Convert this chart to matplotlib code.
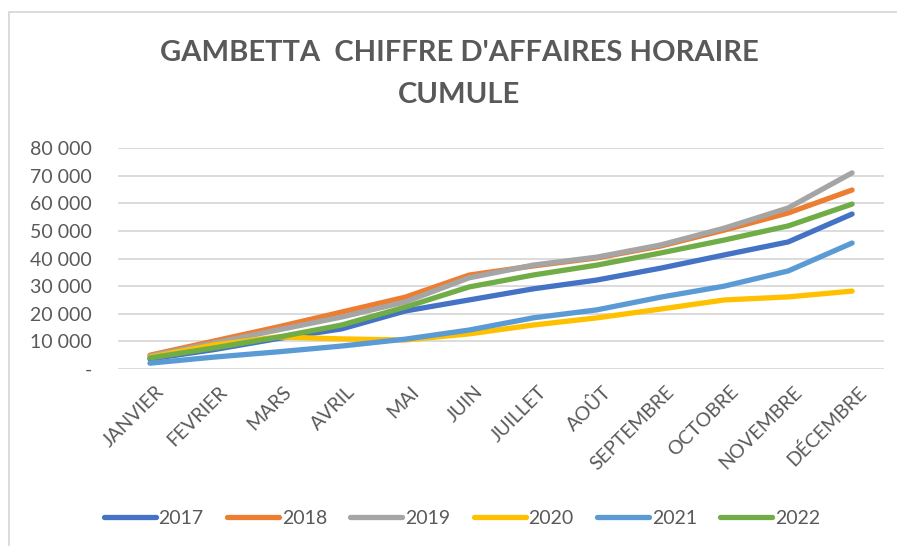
import matplotlib.pyplot as plt
from matplotlib.patches import Rectangle
from matplotlib.ticker import FuncFormatter
from matplotlib.transforms import ScaledTranslation
import numpy as np

plt.rcParams['font.family'] = ['Lato', 'DejaVu Sans']

mois = ['JANVIER', 'FEVRIER', 'MARS', 'AVRIL', 'MAI', 'JUIN', 'JUILLET', 'AOÛT',
        'SEPTEMBRE', 'OCTOBRE', 'NOVEMBRE', 'DÉCEMBRE']

ca_2017 = [3600, 7000, 11000, 14500, 21000, 25000, 29000, 32200, 36500, 41300, 46000, 56100]
ca_2018 = [5000, 10100, 15200, 20600, 26000, 34000, 37300, 40200, 44500, 50300, 56500, 64800]
ca_2019 = [4700, 9400, 14100, 18800, 24300, 33000, 37600, 40500, 44900, 51000, 58300, 71000]
ca_2020 = [4300, 8700, 11600, 10900, 10500, 12700, 15900, 18500, 21700, 25000, 26100, 28200]
ca_2021 = [2100, 4300, 6200, 8300, 10800, 14100, 18500, 21400, 26000, 30000, 35500, 45600]
ca_2022 = [4000, 7600, 11500, 15900, 22400, 29700, 34000, 37600, 42000, 46700, 51800, 59700]

annees = ['2017', '2018', '2019', '2020', '2021', '2022']
series = [ca_2017, ca_2018, ca_2019, ca_2020, ca_2021, ca_2022]
couleurs = ['#4472C4', '#ED7D31', '#A5A5A5', '#FFC000', '#5B9BD5', '#70AD47']

gris = '#595959'

fig = plt.figure(figsize=(8.97, 5.46), dpi=100)
ax = fig.add_axes([0.1316, 0.3242, 0.8539, 0.4047])

# cadre du graphique
fig.patches.append(Rectangle((9 / 897, -0.05), 1.2, 1 - 12 / 546 + 0.05,
                             transform=fig.transFigure, fill=False,
                             edgecolor='#D9D9D9', linewidth=1.3))

x = np.arange(len(mois))
for annee, vals, c in zip(annees, series, couleurs):
    ax.plot(x, vals, color=c, linewidth=3.8, label=annee, solid_capstyle='round',
            solid_joinstyle='round')

ax.set_xlim(-0.5, len(mois) - 0.5)
ax.set_ylim(0, 80000)
ax.set_yticks(np.arange(0, 80001, 10000))
ax.yaxis.set_major_formatter(FuncFormatter(
    lambda v, p: '-' if v == 0 else f'{int(v):,}'.replace(',', ' ')))
ax.grid(axis='y', color='#D9D9D9', linewidth=1.3)
ax.set_axisbelow(True)
for s in ax.spines.values():
    s.set_visible(False)
ax.tick_params(axis='both', length=0, colors=gris, labelsize=14)
ax.tick_params(axis='y', pad=19)
ax.set_xticks(x)
ax.set_xticklabels(mois, rotation=45, ha='right', va='top', rotation_mode='anchor')
ax.tick_params(axis='x', pad=10)
decal = ScaledTranslation(5 / 100, 0, fig.dpi_scale_trans)
for lab in ax.get_xticklabels():
    lab.set_transform(lab.get_transform() + decal)

fig.text(0.512, 1 - 53 / 546, "GAMBETTA  CHIFFRE D'AFFAIRES HORAIRE", ha='center', va='center',
         fontsize=21, fontweight='bold', color=gris)
fig.text(0.512, 1 - 95 / 546, 'CUMULE', ha='center', va='center',
         fontsize=21, fontweight='bold', color=gris)

fig.legend(loc='center', bbox_to_anchor=(0.515, 1 - 518 / 546), ncol=6, frameon=False,
           fontsize=14, labelcolor=gris, handlelength=2.67, handletextpad=0.15,
           columnspacing=1.2)

fig.savefig('out.png', dpi=100)
